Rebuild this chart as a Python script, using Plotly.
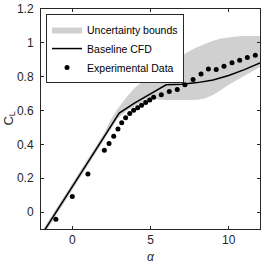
import plotly.graph_objects as go

# Uncertainty band
band_alpha = [-2, -1, 0, 1, 2, 2.4, 2.9, 3.5, 4, 4.5, 5, 5.5, 6, 6.5, 7, 7.5, 8, 8.5, 9, 9.5, 10, 10.5, 11, 11.5, 12]
band_upper = [-0.12, 0.025, 0.17, 0.315, 0.46, 0.535, 0.61, 0.683, 0.735, 0.772, 0.81, 0.845, 0.872, 0.9, 0.926, 0.952, 0.975, 0.995, 1.012, 1.025, 1.033, 1.038, 1.04, 1.04, 1.04]
band_lower = [-0.16, -0.015, 0.13, 0.275, 0.42, 0.478, 0.553, 0.6, 0.627, 0.65, 0.668, 0.665, 0.662, 0.661, 0.661, 0.662, 0.664, 0.672, 0.692, 0.722, 0.752, 0.78, 0.806, 0.832, 0.857]

# Baseline CFD
cfd_alpha = [-2, -1, 0, 1, 2, 3, 4, 5, 6, 7, 8, 9, 10, 11, 12]
cfd_cl = [-0.14, 0.005, 0.152, 0.297, 0.442, 0.585, 0.645, 0.70, 0.752, 0.756, 0.765, 0.78, 0.807, 0.842, 0.881]

# Experimental data
exp_alpha = [-1.05, 0, 1.0, 2.05, 2.35, 2.65, 2.92, 3.16, 3.41, 3.67, 3.92, 4.18, 4.43, 4.69, 4.95, 5.2,
             5.69, 6.2, 6.71, 7.2, 7.72, 8.23, 8.7, 9.2, 9.7, 10.21, 10.7, 11.19, 11.7]
exp_cl = [-0.043, 0.092, 0.225, 0.365, 0.405, 0.448, 0.491, 0.528, 0.558, 0.582, 0.601, 0.617, 0.631, 0.647, 0.662, 0.678,
          0.694, 0.712, 0.725, 0.753, 0.784, 0.816, 0.845, 0.842, 0.861, 0.883, 0.897, 0.914, 0.926]

x_ticks = [0, 5, 10]
y_ticks = [0, 0.2, 0.4, 0.6, 0.8, 1, 1.2]
y_tick_labels = ["0", "0.2", "0.4", "0.6", "0.8", "1", "1.2"]
x_label = "<i>α</i>"
y_label = "C<sub>L</sub>"

axcol = "#262626"
font = "Liberation Sans, Arial, Helvetica, sans-serif"

fig = go.Figure()
fig.add_trace(go.Scatter(
    x=band_alpha + band_alpha[::-1],
    y=band_upper + band_lower[::-1],
    fill="toself", fillcolor="#d0d0d0", line=dict(width=0, color="#d0d0d0"),
    mode="lines", name="Uncertainty bounds", hoverinfo="skip"))
fig.add_trace(go.Scatter(
    x=cfd_alpha, y=cfd_cl, mode="lines",
    line=dict(color="black", width=1.5), name="Baseline CFD"))
fig.add_trace(go.Scatter(
    x=exp_alpha, y=exp_cl, mode="markers",
    marker=dict(color="black", size=5), name="Experimental Data"))

fig.update_layout(
    width=269, height=267,
    margin=dict(l=41, r=9, t=9, b=38, autoexpand=False),
    paper_bgcolor="white", plot_bgcolor="white",
    font=dict(family=font, size=12, color=axcol),
    showlegend=True,
    legend=dict(x=0.023, y=0.977, xanchor="left", yanchor="top",
                bordercolor=axcol, borderwidth=1, bgcolor="white",
                font=dict(size=10.5, color="black"), itemwidth=30,
                tracegroupgap=0),
    annotations=[
        dict(text=x_label, xref="paper", yref="paper", x=0.5, y=-0.128,
             xanchor="center", yanchor="middle", showarrow=False,
             font=dict(size=12, color=axcol)),
        dict(text=y_label, xref="paper", yref="paper", x=-0.148, y=0.5,
             xanchor="center", yanchor="middle", showarrow=False, textangle=-90,
             font=dict(size=13, color=axcol)),
    ],
)
fig.update_xaxes(
    range=[-2, 12], tickvals=x_ticks, showgrid=False, zeroline=False, automargin=False,
    showline=True, linecolor=axcol, linewidth=1, mirror="ticks",
    ticks="inside", ticklen=3, tickcolor=axcol,
    tickfont=dict(size=12, color=axcol))
fig.update_yaxes(
    range=[-0.1, 1.2], tickvals=y_ticks, ticktext=y_tick_labels, showgrid=False, zeroline=False,
    automargin=False,
    showline=True, linecolor=axcol, linewidth=1, mirror="ticks",
    ticks="inside", ticklen=3, tickcolor=axcol, ticklabelstandoff=4,
    tickfont=dict(size=12, color=axcol))

fig.write_html("out.html", config={"displayModeBar": False},
               post_script="document.body.style.margin='0px';")
